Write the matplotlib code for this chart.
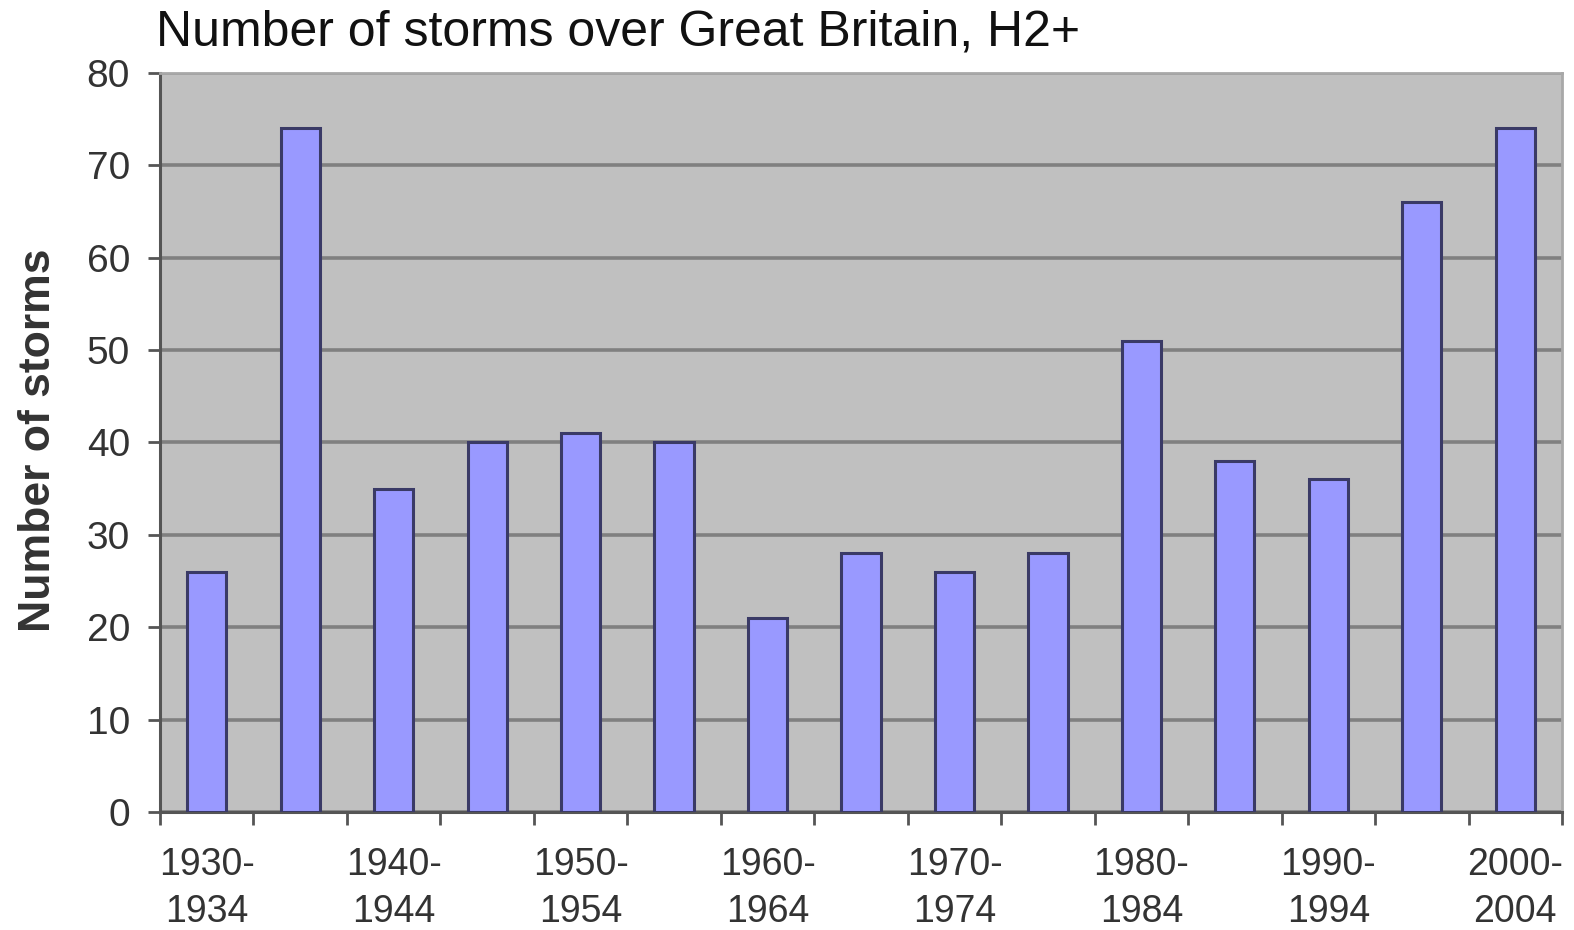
import matplotlib
matplotlib.use("Agg")
import matplotlib.pyplot as plt
import numpy as np

periods = ["1930-\n1934", "1935-\n1939", "1940-\n1944", "1945-\n1949", "1950-\n1954",
           "1955-\n1959", "1960-\n1964", "1965-\n1969", "1970-\n1974", "1975-\n1979",
           "1980-\n1984", "1985-\n1989", "1990-\n1994", "1995-\n1999", "2000-\n2004"]
storms = [26, 74, 35, 40, 41, 40, 21, 28, 26, 28, 51, 38, 36, 66, 74]
y_ticks = [0, 10, 20, 30, 40, 50, 60, 70, 80]

plt.rcParams["font.family"] = ["Liberation Sans", "DejaVu Sans"]

W, H = 1574, 930
fig = plt.figure(figsize=(W / 100, H / 100), dpi=100)
ax = fig.add_axes([160 / W, 1 - 812 / H, (1562 - 160) / W, (812 - 73) / H])

x = np.arange(len(storms))
ax.set_facecolor("#c0c0c0")
ax.bar(x, storms, width=0.42, color="#9999ff", edgecolor="#3a3a66", linewidth=2.2, zorder=3)

ax.set_xlim(-0.5, len(storms) - 0.5)
ax.set_ylim(0, 80)
ax.set_yticks(y_ticks)
ax.yaxis.grid(True, color="#808080", linewidth=2.6, zorder=1)
ax.set_axisbelow(True)

# category boundaries carry the ticks; every other period is labelled
ax.set_xticks(np.arange(len(storms) + 1) - 0.5)
ax.set_xticklabels([])
ax.set_xticks(x[::2], [periods[i] for i in x[::2]], minor=True)
ax.tick_params(axis="x", which="major", length=9.4, width=2, color="#555555", direction="out")
ax.tick_params(axis="x", which="minor", length=0, pad=25, labelsize=27, labelcolor="#333333")
ax.tick_params(axis="y", length=8.6, width=2, color="#555555", pad=13, labelsize=28, labelcolor="#333333")
for lbl in ax.get_xticklabels(minor=True):
    lbl.set_linespacing(1.42)

for side in ["top", "right"]:
    ax.spines[side].set_color("#a8a8a8")
    ax.spines[side].set_linewidth(2)
for side in ["left", "bottom"]:
    ax.spines[side].set_color("#555555")
    ax.spines[side].set_linewidth(2.2)

fig.text(50 / W, 1 - 440 / H, "Number of storms", fontsize=32, fontweight="bold",
         color="#333333", rotation=90, rotation_mode="anchor", ha="center", va="baseline")
fig.text(156 / W, 1 - 45 / H, "Number of storms over Great Britain, H2+",
         fontsize=36, color="#111111", ha="left", va="baseline")

fig.savefig("out.png", dpi=100)
